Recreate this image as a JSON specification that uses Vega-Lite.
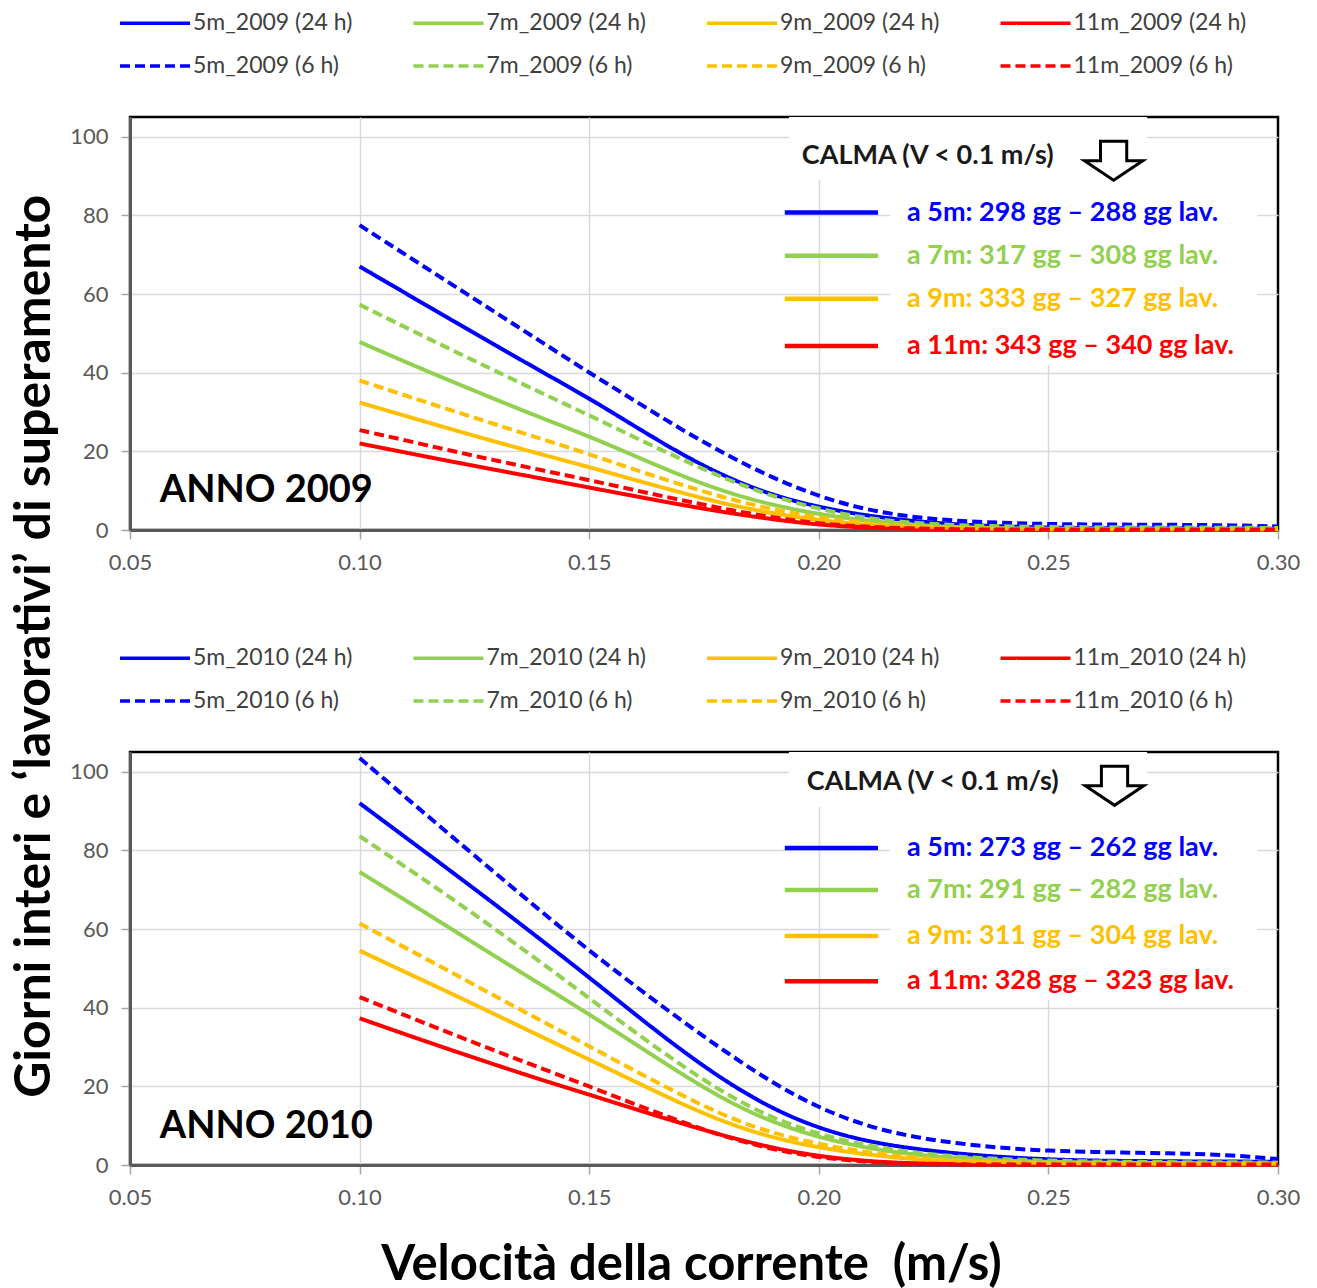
{
  "$schema": "https://vega.github.io/schema/vega-lite/v6.json",
  "background": "white",
  "padding": {"left": 10, "top": 2, "right": 10, "bottom": 0},
  "title": {
    "text": "Giorni interi e ‘lavorativi’ di superamento",
    "orient": "left",
    "anchor": "middle",
    "font": "Lato",
    "fontSize": 50,
    "fontWeight": "bold",
    "color": "#000000",
    "offset": 8
  },
  "config": {
    "font": "Lato",
    "view": {"stroke": "#000000", "strokeWidth": 2.5},
    "axis": {
      "labelFont": "Lato",
      "labelFontSize": 22,
      "labelColor": "#595959",
      "gridColor": "#d9d9d9",
      "gridWidth": 1.5,
      "domainColor": "#595959",
      "domainWidth": 3,
      "tickColor": "#a6a6a6",
      "tickSize": 9,
      "tickWidth": 1.5,
      "labelPadding": 13
    },
    "legend": {
      "orient": "none",
      "legendX": 5.5,
      "legendY": -113.5,
      "direction": "horizontal",
      "columns": 4,
      "gridAlign": "all",
      "columnPadding": 39.5,
      "rowPadding": 11,
      "symbolType": "M-2,0H2",
      "symbolSize": 1225,
      "symbolStrokeWidth": 3.5,
      "symbolFillColor": "transparent",
      "labelFont": "Lato",
      "labelFontSize": 23,
      "labelColor": "#404040",
      "labelOffset": 18.5,
      "labelLimit": 400
    }
  },
  "spacing": 62,
  "resolve": {
    "scale": {"color": "independent", "strokeDash": "independent"},
    "legend": {"color": "independent", "strokeDash": "independent"}
  },
  "vconcat": [
    {
      "width": 1148,
      "height": 413,
      "layer": [
        {
          "data": {"values": [
            {"s":"5m_2009 (24 h)","v":0.10,"g":67},{"s":"5m_2009 (24 h)","v":0.11,"g":60.2},{"s":"5m_2009 (24 h)","v":0.12,"g":53.4},{"s":"5m_2009 (24 h)","v":0.13,"g":46.7},{"s":"5m_2009 (24 h)","v":0.14,"g":40},{"s":"5m_2009 (24 h)","v":0.15,"g":33.5},{"s":"5m_2009 (24 h)","v":0.16,"g":26.3},{"s":"5m_2009 (24 h)","v":0.17,"g":19.3},{"s":"5m_2009 (24 h)","v":0.18,"g":13.3},{"s":"5m_2009 (24 h)","v":0.19,"g":8.8},{"s":"5m_2009 (24 h)","v":0.20,"g":5.8},{"s":"5m_2009 (24 h)","v":0.21,"g":3.7},{"s":"5m_2009 (24 h)","v":0.22,"g":2.3},{"s":"5m_2009 (24 h)","v":0.23,"g":1.4},{"s":"5m_2009 (24 h)","v":0.24,"g":0.9},{"s":"5m_2009 (24 h)","v":0.25,"g":0.6},{"s":"5m_2009 (24 h)","v":0.26,"g":0.45},{"s":"5m_2009 (24 h)","v":0.27,"g":0.4},{"s":"5m_2009 (24 h)","v":0.28,"g":0.35},{"s":"5m_2009 (24 h)","v":0.29,"g":0.3},{"s":"5m_2009 (24 h)","v":0.30,"g":0.3},
            {"s":"7m_2009 (24 h)","v":0.10,"g":47.8},{"s":"7m_2009 (24 h)","v":0.11,"g":42.7},{"s":"7m_2009 (24 h)","v":0.12,"g":37.8},{"s":"7m_2009 (24 h)","v":0.13,"g":33},{"s":"7m_2009 (24 h)","v":0.14,"g":28.3},{"s":"7m_2009 (24 h)","v":0.15,"g":23.8},{"s":"7m_2009 (24 h)","v":0.16,"g":18.8},{"s":"7m_2009 (24 h)","v":0.17,"g":13.8},{"s":"7m_2009 (24 h)","v":0.18,"g":9.5},{"s":"7m_2009 (24 h)","v":0.19,"g":6.3},{"s":"7m_2009 (24 h)","v":0.20,"g":4},{"s":"7m_2009 (24 h)","v":0.21,"g":2.4},{"s":"7m_2009 (24 h)","v":0.22,"g":1.3},{"s":"7m_2009 (24 h)","v":0.23,"g":0.7},{"s":"7m_2009 (24 h)","v":0.24,"g":0.4},{"s":"7m_2009 (24 h)","v":0.25,"g":0.3},{"s":"7m_2009 (24 h)","v":0.26,"g":0.3},{"s":"7m_2009 (24 h)","v":0.27,"g":0.25},{"s":"7m_2009 (24 h)","v":0.28,"g":0.2},{"s":"7m_2009 (24 h)","v":0.29,"g":0.2},{"s":"7m_2009 (24 h)","v":0.30,"g":0.2},
            {"s":"9m_2009 (24 h)","v":0.10,"g":32.4},{"s":"9m_2009 (24 h)","v":0.11,"g":29},{"s":"9m_2009 (24 h)","v":0.12,"g":25.6},{"s":"9m_2009 (24 h)","v":0.13,"g":22.3},{"s":"9m_2009 (24 h)","v":0.14,"g":19.1},{"s":"9m_2009 (24 h)","v":0.15,"g":16},{"s":"9m_2009 (24 h)","v":0.16,"g":12.7},{"s":"9m_2009 (24 h)","v":0.17,"g":9.5},{"s":"9m_2009 (24 h)","v":0.18,"g":6.5},{"s":"9m_2009 (24 h)","v":0.19,"g":4.2},{"s":"9m_2009 (24 h)","v":0.20,"g":2.5},{"s":"9m_2009 (24 h)","v":0.21,"g":1.3},{"s":"9m_2009 (24 h)","v":0.22,"g":0.7},{"s":"9m_2009 (24 h)","v":0.23,"g":0.4},{"s":"9m_2009 (24 h)","v":0.24,"g":0.2},{"s":"9m_2009 (24 h)","v":0.25,"g":0.1},{"s":"9m_2009 (24 h)","v":0.26,"g":0.1},{"s":"9m_2009 (24 h)","v":0.27,"g":0.1},{"s":"9m_2009 (24 h)","v":0.28,"g":0.1},{"s":"9m_2009 (24 h)","v":0.29,"g":0.1},{"s":"9m_2009 (24 h)","v":0.30,"g":0.1},
            {"s":"11m_2009 (24 h)","v":0.10,"g":22},{"s":"11m_2009 (24 h)","v":0.11,"g":19.7},{"s":"11m_2009 (24 h)","v":0.12,"g":17.4},{"s":"11m_2009 (24 h)","v":0.13,"g":15.2},{"s":"11m_2009 (24 h)","v":0.14,"g":13},{"s":"11m_2009 (24 h)","v":0.15,"g":10.8},{"s":"11m_2009 (24 h)","v":0.16,"g":8.6},{"s":"11m_2009 (24 h)","v":0.17,"g":6.4},{"s":"11m_2009 (24 h)","v":0.18,"g":4.4},{"s":"11m_2009 (24 h)","v":0.19,"g":2.7},{"s":"11m_2009 (24 h)","v":0.20,"g":1.3},{"s":"11m_2009 (24 h)","v":0.21,"g":0.6},{"s":"11m_2009 (24 h)","v":0.22,"g":0.3},{"s":"11m_2009 (24 h)","v":0.23,"g":0.1},{"s":"11m_2009 (24 h)","v":0.24,"g":0},{"s":"11m_2009 (24 h)","v":0.25,"g":0},{"s":"11m_2009 (24 h)","v":0.26,"g":0},{"s":"11m_2009 (24 h)","v":0.27,"g":0},{"s":"11m_2009 (24 h)","v":0.28,"g":0},{"s":"11m_2009 (24 h)","v":0.29,"g":0},{"s":"11m_2009 (24 h)","v":0.30,"g":0},
            {"s":"5m_2009 (6 h)","v":0.10,"g":77.5},{"s":"5m_2009 (6 h)","v":0.11,"g":70},{"s":"5m_2009 (6 h)","v":0.12,"g":62.5},{"s":"5m_2009 (6 h)","v":0.13,"g":55},{"s":"5m_2009 (6 h)","v":0.14,"g":47.5},{"s":"5m_2009 (6 h)","v":0.15,"g":40},{"s":"5m_2009 (6 h)","v":0.16,"g":32.8},{"s":"5m_2009 (6 h)","v":0.17,"g":25.6},{"s":"5m_2009 (6 h)","v":0.18,"g":19},{"s":"5m_2009 (6 h)","v":0.19,"g":13.2},{"s":"5m_2009 (6 h)","v":0.20,"g":8.5},{"s":"5m_2009 (6 h)","v":0.21,"g":5.2},{"s":"5m_2009 (6 h)","v":0.22,"g":3.3},{"s":"5m_2009 (6 h)","v":0.23,"g":2.3},{"s":"5m_2009 (6 h)","v":0.24,"g":1.8},{"s":"5m_2009 (6 h)","v":0.25,"g":1.5},{"s":"5m_2009 (6 h)","v":0.26,"g":1.4},{"s":"5m_2009 (6 h)","v":0.27,"g":1.35},{"s":"5m_2009 (6 h)","v":0.28,"g":1.3},{"s":"5m_2009 (6 h)","v":0.29,"g":1.2},{"s":"5m_2009 (6 h)","v":0.30,"g":0.9},
            {"s":"7m_2009 (6 h)","v":0.10,"g":57.3},{"s":"7m_2009 (6 h)","v":0.11,"g":51.5},{"s":"7m_2009 (6 h)","v":0.12,"g":45.8},{"s":"7m_2009 (6 h)","v":0.13,"g":40.2},{"s":"7m_2009 (6 h)","v":0.14,"g":34.6},{"s":"7m_2009 (6 h)","v":0.15,"g":29.2},{"s":"7m_2009 (6 h)","v":0.16,"g":23.5},{"s":"7m_2009 (6 h)","v":0.17,"g":18},{"s":"7m_2009 (6 h)","v":0.18,"g":12.8},{"s":"7m_2009 (6 h)","v":0.19,"g":8.5},{"s":"7m_2009 (6 h)","v":0.20,"g":5.3},{"s":"7m_2009 (6 h)","v":0.21,"g":3},{"s":"7m_2009 (6 h)","v":0.22,"g":1.8},{"s":"7m_2009 (6 h)","v":0.23,"g":1.2},{"s":"7m_2009 (6 h)","v":0.24,"g":0.9},{"s":"7m_2009 (6 h)","v":0.25,"g":0.8},{"s":"7m_2009 (6 h)","v":0.26,"g":0.7},{"s":"7m_2009 (6 h)","v":0.27,"g":0.7},{"s":"7m_2009 (6 h)","v":0.28,"g":0.6},{"s":"7m_2009 (6 h)","v":0.29,"g":0.6},{"s":"7m_2009 (6 h)","v":0.30,"g":0.5},
            {"s":"9m_2009 (6 h)","v":0.10,"g":38},{"s":"9m_2009 (6 h)","v":0.11,"g":34.2},{"s":"9m_2009 (6 h)","v":0.12,"g":30.4},{"s":"9m_2009 (6 h)","v":0.13,"g":26.7},{"s":"9m_2009 (6 h)","v":0.14,"g":23},{"s":"9m_2009 (6 h)","v":0.15,"g":19.3},{"s":"9m_2009 (6 h)","v":0.16,"g":15.3},{"s":"9m_2009 (6 h)","v":0.17,"g":11.5},{"s":"9m_2009 (6 h)","v":0.18,"g":8},{"s":"9m_2009 (6 h)","v":0.19,"g":5.2},{"s":"9m_2009 (6 h)","v":0.20,"g":3.1},{"s":"9m_2009 (6 h)","v":0.21,"g":1.7},{"s":"9m_2009 (6 h)","v":0.22,"g":0.9},{"s":"9m_2009 (6 h)","v":0.23,"g":0.5},{"s":"9m_2009 (6 h)","v":0.24,"g":0.3},{"s":"9m_2009 (6 h)","v":0.25,"g":0.2},{"s":"9m_2009 (6 h)","v":0.26,"g":0.2},{"s":"9m_2009 (6 h)","v":0.27,"g":0.2},{"s":"9m_2009 (6 h)","v":0.28,"g":0.2},{"s":"9m_2009 (6 h)","v":0.29,"g":0.2},{"s":"9m_2009 (6 h)","v":0.30,"g":0.2},
            {"s":"11m_2009 (6 h)","v":0.10,"g":25.4},{"s":"11m_2009 (6 h)","v":0.11,"g":22.8},{"s":"11m_2009 (6 h)","v":0.12,"g":20.1},{"s":"11m_2009 (6 h)","v":0.13,"g":17.6},{"s":"11m_2009 (6 h)","v":0.14,"g":15.1},{"s":"11m_2009 (6 h)","v":0.15,"g":12.7},{"s":"11m_2009 (6 h)","v":0.16,"g":10.1},{"s":"11m_2009 (6 h)","v":0.17,"g":7.6},{"s":"11m_2009 (6 h)","v":0.18,"g":5.2},{"s":"11m_2009 (6 h)","v":0.19,"g":3.2},{"s":"11m_2009 (6 h)","v":0.20,"g":1.6},{"s":"11m_2009 (6 h)","v":0.21,"g":0.8},{"s":"11m_2009 (6 h)","v":0.22,"g":0.4},{"s":"11m_2009 (6 h)","v":0.23,"g":0.2},{"s":"11m_2009 (6 h)","v":0.24,"g":0.1},{"s":"11m_2009 (6 h)","v":0.25,"g":0.1},{"s":"11m_2009 (6 h)","v":0.26,"g":0.1},{"s":"11m_2009 (6 h)","v":0.27,"g":0.1},{"s":"11m_2009 (6 h)","v":0.28,"g":0.1},{"s":"11m_2009 (6 h)","v":0.29,"g":0.1},{"s":"11m_2009 (6 h)","v":0.30,"g":0.1}
          ]},
          "mark": {"type": "line", "strokeWidth": 4, "interpolate": "basis", "strokeCap": "butt"},
          "encoding": {
            "x": {"field": "v", "type": "quantitative", "scale": {"domain": [0.05, 0.3], "nice": false, "zero": false},
                  "axis": {"values": [0.05, 0.1, 0.15, 0.2, 0.25, 0.3], "format": ".2f", "title": null, "labelFlush": false,
                           "gridColor": {"condition": {"test": "datum.value >= 0.3", "value": "transparent"}, "value": "#d9d9d9"}}},
            "y": {"field": "g", "type": "quantitative", "scale": {"domain": [0, 105], "nice": false},
                  "axis": {"values": [0, 20, 40, 60, 80, 100], "title": null}},
            "color": {"field": "s", "type": "nominal", "title": null,
              "scale": {"domain": ["5m_2009 (24 h)","7m_2009 (24 h)","9m_2009 (24 h)","11m_2009 (24 h)","5m_2009 (6 h)","7m_2009 (6 h)","9m_2009 (6 h)","11m_2009 (6 h)"],
                        "range": ["#0000ff","#92d050","#ffc000","#ff0000","#0000ff","#92d050","#ffc000","#ff0000"]}},
            "strokeDash": {"field": "s", "type": "nominal", "title": null,
              "scale": {"domain": ["5m_2009 (24 h)","7m_2009 (24 h)","9m_2009 (24 h)","11m_2009 (24 h)","5m_2009 (6 h)","7m_2009 (6 h)","9m_2009 (6 h)","11m_2009 (6 h)"],
                        "range": [[1,0],[1,0],[1,0],[1,0],[10,5],[10,5],[10,5],[10,5]]}}
          }
        },
        {
          "data": {"values": [{"x": 0.1935, "x2": 0.2715, "y": 89, "y2": 105}, {"x": 0.2155, "x2": 0.2955, "y": 42, "y2": 89}]},
          "mark": {"type": "rect", "fill": "white", "stroke": null},
          "encoding": {
            "x": {"field": "x", "type": "quantitative"}, "x2": {"field": "x2"},
            "y": {"field": "y", "type": "quantitative"}, "y2": {"field": "y2"}
          }
        },
        {
          "data": {"values": [
            {"d": "5m", "t": "a 5m: 298 gg – 288 gg lav.", "y": 80.7},
            {"d": "7m", "t": "a 7m: 317 gg – 308 gg lav.", "y": 69.7},
            {"d": "9m", "t": "a 9m: 333 gg – 327 gg lav.", "y": 58.8},
            {"d": "11m", "t": "a 11m: 343 gg – 340 gg lav.", "y": 46.8}
          ]},
          "layer": [
            {
              "mark": {"type": "rule", "strokeWidth": 4.5},
              "encoding": {
                "x": {"datum": 0.1926, "type": "quantitative"}, "x2": {"datum": 0.2129},
                "y": {"field": "y", "type": "quantitative"},
                "stroke": {"field": "d", "type": "nominal", "legend": null,
                  "scale": {"domain": ["5m","7m","9m","11m"], "range": ["#0000ff","#92d050","#ffc000","#ff0000"]}}
              }
            },
            {
              "mark": {"type": "text", "align": "left", "baseline": "middle", "font": "Lato", "fontSize": 27, "fontWeight": "bold"},
              "encoding": {
                "x": {"datum": 0.2192, "type": "quantitative"},
                "y": {"field": "y", "type": "quantitative"},
                "text": {"field": "t"},
                "fill": {"field": "d", "type": "nominal", "legend": null,
                  "scale": {"domain": ["5m","7m","9m","11m"], "range": ["#0000ff","#92d050","#ffc000","#ff0000"]}}
              }
            }
          ]
        },
        {
          "data": {"values": [{}]},
          "mark": {"type": "text", "align": "left", "baseline": "middle", "font": "Lato", "fontSize": 27, "fontWeight": "bold", "color": "#1a1a1a"},
          "encoding": {"x": {"datum": 0.1963, "type": "quantitative"}, "y": {"datum": 95.2, "type": "quantitative"}, "text": {"value": "CALMA (V < 0.1 m/s)"}}
        },
        {
          "data": {"values": [{}]},
          "mark": {"type": "point", "shape": "M-0.45,-0.67L0.45,-0.67L0.45,0L1,0L0,0.67L-1,0L-0.45,0Z", "size": 3400, "filled": true, "fill": "white", "stroke": "black", "strokeWidth": 3, "opacity": 1},
          "encoding": {"x": {"datum": 0.2642, "type": "quantitative"}, "y": {"datum": 93.9, "type": "quantitative"}}
        },
        {
          "data": {"values": [{}]},
          "mark": {"type": "text", "align": "left", "baseline": "middle", "font": "Lato", "fontSize": 38, "fontWeight": "bold", "color": "#000000"},
          "encoding": {"x": {"datum": 0.0565, "type": "quantitative"}, "y": {"datum": 10, "type": "quantitative"}, "text": {"value": "ANNO 2009"}}
        }
      ]
    },
    {
      "width": 1148,
      "height": 413,
      "layer": [
        {
          "data": {"values": [
            {"s":"5m_2010 (24 h)","v":0.10,"g":92},{"s":"5m_2010 (24 h)","v":0.11,"g":83.3},{"s":"5m_2010 (24 h)","v":0.12,"g":74.6},{"s":"5m_2010 (24 h)","v":0.13,"g":65.8},{"s":"5m_2010 (24 h)","v":0.14,"g":56.8},{"s":"5m_2010 (24 h)","v":0.15,"g":47.7},{"s":"5m_2010 (24 h)","v":0.16,"g":38.3},{"s":"5m_2010 (24 h)","v":0.17,"g":29.2},{"s":"5m_2010 (24 h)","v":0.18,"g":21},{"s":"5m_2010 (24 h)","v":0.19,"g":14.2},{"s":"5m_2010 (24 h)","v":0.20,"g":9.3},{"s":"5m_2010 (24 h)","v":0.21,"g":6.1},{"s":"5m_2010 (24 h)","v":0.22,"g":4.2},{"s":"5m_2010 (24 h)","v":0.23,"g":2.9},{"s":"5m_2010 (24 h)","v":0.24,"g":2},{"s":"5m_2010 (24 h)","v":0.25,"g":1.4},{"s":"5m_2010 (24 h)","v":0.26,"g":1.1},{"s":"5m_2010 (24 h)","v":0.27,"g":1},{"s":"5m_2010 (24 h)","v":0.28,"g":0.9},{"s":"5m_2010 (24 h)","v":0.29,"g":0.9},{"s":"5m_2010 (24 h)","v":0.30,"g":0.8},
            {"s":"7m_2010 (24 h)","v":0.10,"g":74.5},{"s":"7m_2010 (24 h)","v":0.11,"g":67.3},{"s":"7m_2010 (24 h)","v":0.12,"g":60},{"s":"7m_2010 (24 h)","v":0.13,"g":52.7},{"s":"7m_2010 (24 h)","v":0.14,"g":45.5},{"s":"7m_2010 (24 h)","v":0.15,"g":38.3},{"s":"7m_2010 (24 h)","v":0.16,"g":30.8},{"s":"7m_2010 (24 h)","v":0.17,"g":23.2},{"s":"7m_2010 (24 h)","v":0.18,"g":16.2},{"s":"7m_2010 (24 h)","v":0.19,"g":10.8},{"s":"7m_2010 (24 h)","v":0.20,"g":7},{"s":"7m_2010 (24 h)","v":0.21,"g":4.4},{"s":"7m_2010 (24 h)","v":0.22,"g":2.7},{"s":"7m_2010 (24 h)","v":0.23,"g":1.7},{"s":"7m_2010 (24 h)","v":0.24,"g":1.1},{"s":"7m_2010 (24 h)","v":0.25,"g":0.8},{"s":"7m_2010 (24 h)","v":0.26,"g":0.6},{"s":"7m_2010 (24 h)","v":0.27,"g":0.5},{"s":"7m_2010 (24 h)","v":0.28,"g":0.5},{"s":"7m_2010 (24 h)","v":0.29,"g":0.4},{"s":"7m_2010 (24 h)","v":0.30,"g":0.4},
            {"s":"9m_2010 (24 h)","v":0.10,"g":54.5},{"s":"9m_2010 (24 h)","v":0.11,"g":49},{"s":"9m_2010 (24 h)","v":0.12,"g":43.6},{"s":"9m_2010 (24 h)","v":0.13,"g":38},{"s":"9m_2010 (24 h)","v":0.14,"g":32.4},{"s":"9m_2010 (24 h)","v":0.15,"g":26.8},{"s":"9m_2010 (24 h)","v":0.16,"g":21.2},{"s":"9m_2010 (24 h)","v":0.17,"g":15.6},{"s":"9m_2010 (24 h)","v":0.18,"g":10.6},{"s":"9m_2010 (24 h)","v":0.19,"g":6.9},{"s":"9m_2010 (24 h)","v":0.20,"g":4.4},{"s":"9m_2010 (24 h)","v":0.21,"g":2.7},{"s":"9m_2010 (24 h)","v":0.22,"g":1.5},{"s":"9m_2010 (24 h)","v":0.23,"g":0.9},{"s":"9m_2010 (24 h)","v":0.24,"g":0.5},{"s":"9m_2010 (24 h)","v":0.25,"g":0.3},{"s":"9m_2010 (24 h)","v":0.26,"g":0.2},{"s":"9m_2010 (24 h)","v":0.27,"g":0.2},{"s":"9m_2010 (24 h)","v":0.28,"g":0.2},{"s":"9m_2010 (24 h)","v":0.29,"g":0.2},{"s":"9m_2010 (24 h)","v":0.30,"g":0.2},
            {"s":"11m_2010 (24 h)","v":0.10,"g":37.3},{"s":"11m_2010 (24 h)","v":0.11,"g":33.2},{"s":"11m_2010 (24 h)","v":0.12,"g":29.2},{"s":"11m_2010 (24 h)","v":0.13,"g":25.3},{"s":"11m_2010 (24 h)","v":0.14,"g":21.5},{"s":"11m_2010 (24 h)","v":0.15,"g":17.9},{"s":"11m_2010 (24 h)","v":0.16,"g":14.2},{"s":"11m_2010 (24 h)","v":0.17,"g":10.6},{"s":"11m_2010 (24 h)","v":0.18,"g":7.2},{"s":"11m_2010 (24 h)","v":0.19,"g":4.3},{"s":"11m_2010 (24 h)","v":0.20,"g":2.2},{"s":"11m_2010 (24 h)","v":0.21,"g":1},{"s":"11m_2010 (24 h)","v":0.22,"g":0.4},{"s":"11m_2010 (24 h)","v":0.23,"g":0.2},{"s":"11m_2010 (24 h)","v":0.24,"g":0.1},{"s":"11m_2010 (24 h)","v":0.25,"g":0.1},{"s":"11m_2010 (24 h)","v":0.26,"g":0.1},{"s":"11m_2010 (24 h)","v":0.27,"g":0.1},{"s":"11m_2010 (24 h)","v":0.28,"g":0.1},{"s":"11m_2010 (24 h)","v":0.29,"g":0.1},{"s":"11m_2010 (24 h)","v":0.30,"g":0.1},
            {"s":"5m_2010 (6 h)","v":0.10,"g":103.5},{"s":"5m_2010 (6 h)","v":0.11,"g":93.5},{"s":"5m_2010 (6 h)","v":0.12,"g":83.6},{"s":"5m_2010 (6 h)","v":0.13,"g":73.8},{"s":"5m_2010 (6 h)","v":0.14,"g":64},{"s":"5m_2010 (6 h)","v":0.15,"g":54.5},{"s":"5m_2010 (6 h)","v":0.16,"g":45.5},{"s":"5m_2010 (6 h)","v":0.17,"g":36.8},{"s":"5m_2010 (6 h)","v":0.18,"g":28.5},{"s":"5m_2010 (6 h)","v":0.19,"g":20.8},{"s":"5m_2010 (6 h)","v":0.20,"g":14.5},{"s":"5m_2010 (6 h)","v":0.21,"g":10},{"s":"5m_2010 (6 h)","v":0.22,"g":7.2},{"s":"5m_2010 (6 h)","v":0.23,"g":5.5},{"s":"5m_2010 (6 h)","v":0.24,"g":4.3},{"s":"5m_2010 (6 h)","v":0.25,"g":3.6},{"s":"5m_2010 (6 h)","v":0.26,"g":3.3},{"s":"5m_2010 (6 h)","v":0.27,"g":3.1},{"s":"5m_2010 (6 h)","v":0.28,"g":2.9},{"s":"5m_2010 (6 h)","v":0.29,"g":2.5},{"s":"5m_2010 (6 h)","v":0.30,"g":1.5},
            {"s":"7m_2010 (6 h)","v":0.10,"g":83.6},{"s":"7m_2010 (6 h)","v":0.11,"g":75.8},{"s":"7m_2010 (6 h)","v":0.12,"g":67.8},{"s":"7m_2010 (6 h)","v":0.13,"g":59.6},{"s":"7m_2010 (6 h)","v":0.14,"g":51.1},{"s":"7m_2010 (6 h)","v":0.15,"g":42.4},{"s":"7m_2010 (6 h)","v":0.16,"g":33.7},{"s":"7m_2010 (6 h)","v":0.17,"g":25.4},{"s":"7m_2010 (6 h)","v":0.18,"g":17.8},{"s":"7m_2010 (6 h)","v":0.19,"g":11.8},{"s":"7m_2010 (6 h)","v":0.20,"g":7.8},{"s":"7m_2010 (6 h)","v":0.21,"g":5},{"s":"7m_2010 (6 h)","v":0.22,"g":3.2},{"s":"7m_2010 (6 h)","v":0.23,"g":2.1},{"s":"7m_2010 (6 h)","v":0.24,"g":1.5},{"s":"7m_2010 (6 h)","v":0.25,"g":1.1},{"s":"7m_2010 (6 h)","v":0.26,"g":0.9},{"s":"7m_2010 (6 h)","v":0.27,"g":0.8},{"s":"7m_2010 (6 h)","v":0.28,"g":0.7},{"s":"7m_2010 (6 h)","v":0.29,"g":0.7},{"s":"7m_2010 (6 h)","v":0.30,"g":0.6},
            {"s":"9m_2010 (6 h)","v":0.10,"g":61.4},{"s":"9m_2010 (6 h)","v":0.11,"g":55.2},{"s":"9m_2010 (6 h)","v":0.12,"g":49},{"s":"9m_2010 (6 h)","v":0.13,"g":42.6},{"s":"9m_2010 (6 h)","v":0.14,"g":36.4},{"s":"9m_2010 (6 h)","v":0.15,"g":30.2},{"s":"9m_2010 (6 h)","v":0.16,"g":23.9},{"s":"9m_2010 (6 h)","v":0.17,"g":17.8},{"s":"9m_2010 (6 h)","v":0.18,"g":12.2},{"s":"9m_2010 (6 h)","v":0.19,"g":8},{"s":"9m_2010 (6 h)","v":0.20,"g":5.3},{"s":"9m_2010 (6 h)","v":0.21,"g":3.3},{"s":"9m_2010 (6 h)","v":0.22,"g":1.9},{"s":"9m_2010 (6 h)","v":0.23,"g":1.1},{"s":"9m_2010 (6 h)","v":0.24,"g":0.7},{"s":"9m_2010 (6 h)","v":0.25,"g":0.5},{"s":"9m_2010 (6 h)","v":0.26,"g":0.4},{"s":"9m_2010 (6 h)","v":0.27,"g":0.3},{"s":"9m_2010 (6 h)","v":0.28,"g":0.3},{"s":"9m_2010 (6 h)","v":0.29,"g":0.3},{"s":"9m_2010 (6 h)","v":0.30,"g":0.3},
            {"s":"11m_2010 (6 h)","v":0.10,"g":42.7},{"s":"11m_2010 (6 h)","v":0.11,"g":38},{"s":"11m_2010 (6 h)","v":0.12,"g":33.4},{"s":"11m_2010 (6 h)","v":0.13,"g":28.8},{"s":"11m_2010 (6 h)","v":0.14,"g":24.4},{"s":"11m_2010 (6 h)","v":0.15,"g":20},{"s":"11m_2010 (6 h)","v":0.16,"g":15.4},{"s":"11m_2010 (6 h)","v":0.17,"g":11},{"s":"11m_2010 (6 h)","v":0.18,"g":7},{"s":"11m_2010 (6 h)","v":0.19,"g":3.9},{"s":"11m_2010 (6 h)","v":0.20,"g":1.9},{"s":"11m_2010 (6 h)","v":0.21,"g":0.8},{"s":"11m_2010 (6 h)","v":0.22,"g":0.3},{"s":"11m_2010 (6 h)","v":0.23,"g":0.1},{"s":"11m_2010 (6 h)","v":0.24,"g":0.1},{"s":"11m_2010 (6 h)","v":0.25,"g":0.1},{"s":"11m_2010 (6 h)","v":0.26,"g":0.1},{"s":"11m_2010 (6 h)","v":0.27,"g":0.1},{"s":"11m_2010 (6 h)","v":0.28,"g":0.1},{"s":"11m_2010 (6 h)","v":0.29,"g":0.1},{"s":"11m_2010 (6 h)","v":0.30,"g":0.1}
          ]},
          "mark": {"type": "line", "strokeWidth": 4, "interpolate": "basis", "strokeCap": "butt"},
          "encoding": {
            "x": {"field": "v", "type": "quantitative", "scale": {"domain": [0.05, 0.3], "nice": false, "zero": false},
                  "axis": {"values": [0.05, 0.1, 0.15, 0.2, 0.25, 0.3], "format": ".2f", "labelFlush": false,
                           "gridColor": {"condition": {"test": "datum.value >= 0.3", "value": "transparent"}, "value": "#d9d9d9"},
                           "title": "Velocità della corrente\u00a0 (m/s)", "titleFont": "Lato", "titleFontSize": 49, "titleFontWeight": "bold", "titleColor": "#000000", "titlePadding": 32, "titleX": 561}},
            "y": {"field": "g", "type": "quantitative", "scale": {"domain": [0, 105], "nice": false},
                  "axis": {"values": [0, 20, 40, 60, 80, 100], "title": null}},
            "color": {"field": "s", "type": "nominal", "title": null,
              "scale": {"domain": ["5m_2010 (24 h)","7m_2010 (24 h)","9m_2010 (24 h)","11m_2010 (24 h)","5m_2010 (6 h)","7m_2010 (6 h)","9m_2010 (6 h)","11m_2010 (6 h)"],
                        "range": ["#0000ff","#92d050","#ffc000","#ff0000","#0000ff","#92d050","#ffc000","#ff0000"]}},
            "strokeDash": {"field": "s", "type": "nominal", "title": null,
              "scale": {"domain": ["5m_2010 (24 h)","7m_2010 (24 h)","9m_2010 (24 h)","11m_2010 (24 h)","5m_2010 (6 h)","7m_2010 (6 h)","9m_2010 (6 h)","11m_2010 (6 h)"],
                        "range": [[1,0],[1,0],[1,0],[1,0],[10,5],[10,5],[10,5],[10,5]]}}
          }
        },
        {
          "data": {"values": [{"x": 0.1935, "x2": 0.2715, "y": 91, "y2": 105}, {"x": 0.2155, "x2": 0.2955, "y": 42, "y2": 91}]},
          "mark": {"type": "rect", "fill": "white", "stroke": null},
          "encoding": {
            "x": {"field": "x", "type": "quantitative"}, "x2": {"field": "x2"},
            "y": {"field": "y", "type": "quantitative"}, "y2": {"field": "y2"}
          }
        },
        {
          "data": {"values": [
            {"d": "5m", "t": "a 5m: 273 gg – 262 gg lav.", "y": 80.6},
            {"d": "7m", "t": "a 7m: 291 gg – 282 gg lav.", "y": 69.9},
            {"d": "9m", "t": "a 9m: 311 gg – 304 gg lav.", "y": 58.2},
            {"d": "11m", "t": "a 11m: 328 gg – 323 gg lav.", "y": 46.7}
          ]},
          "layer": [
            {
              "mark": {"type": "rule", "strokeWidth": 4.5},
              "encoding": {
                "x": {"datum": 0.1926, "type": "quantitative"}, "x2": {"datum": 0.2129},
                "y": {"field": "y", "type": "quantitative"},
                "stroke": {"field": "d", "type": "nominal", "legend": null,
                  "scale": {"domain": ["5m","7m","9m","11m"], "range": ["#0000ff","#92d050","#ffc000","#ff0000"]}}
              }
            },
            {
              "mark": {"type": "text", "align": "left", "baseline": "middle", "font": "Lato", "fontSize": 27, "fontWeight": "bold"},
              "encoding": {
                "x": {"datum": 0.2192, "type": "quantitative"},
                "y": {"field": "y", "type": "quantitative"},
                "text": {"field": "t"},
                "fill": {"field": "d", "type": "nominal", "legend": null,
                  "scale": {"domain": ["5m","7m","9m","11m"], "range": ["#0000ff","#92d050","#ffc000","#ff0000"]}}
              }
            }
          ]
        },
        {
          "data": {"values": [{}]},
          "mark": {"type": "text", "align": "left", "baseline": "middle", "font": "Lato", "fontSize": 27, "fontWeight": "bold", "color": "#1a1a1a"},
          "encoding": {"x": {"datum": 0.1974, "type": "quantitative"}, "y": {"datum": 97.3, "type": "quantitative"}, "text": {"value": "CALMA (V < 0.1 m/s)"}}
        },
        {
          "data": {"values": [{}]},
          "mark": {"type": "point", "shape": "M-0.45,-0.67L0.45,-0.67L0.45,0L1,0L0,0.67L-1,0L-0.45,0Z", "size": 3400, "filled": true, "fill": "white", "stroke": "black", "strokeWidth": 3, "opacity": 1},
          "encoding": {"x": {"datum": 0.2644, "type": "quantitative"}, "y": {"datum": 96.4, "type": "quantitative"}}
        },
        {
          "data": {"values": [{}]},
          "mark": {"type": "text", "align": "left", "baseline": "middle", "font": "Lato", "fontSize": 38, "fontWeight": "bold", "color": "#000000"},
          "encoding": {"x": {"datum": 0.0565, "type": "quantitative"}, "y": {"datum": 9.7, "type": "quantitative"}, "text": {"value": "ANNO 2010"}}
        }
      ]
    }
  ]
}
